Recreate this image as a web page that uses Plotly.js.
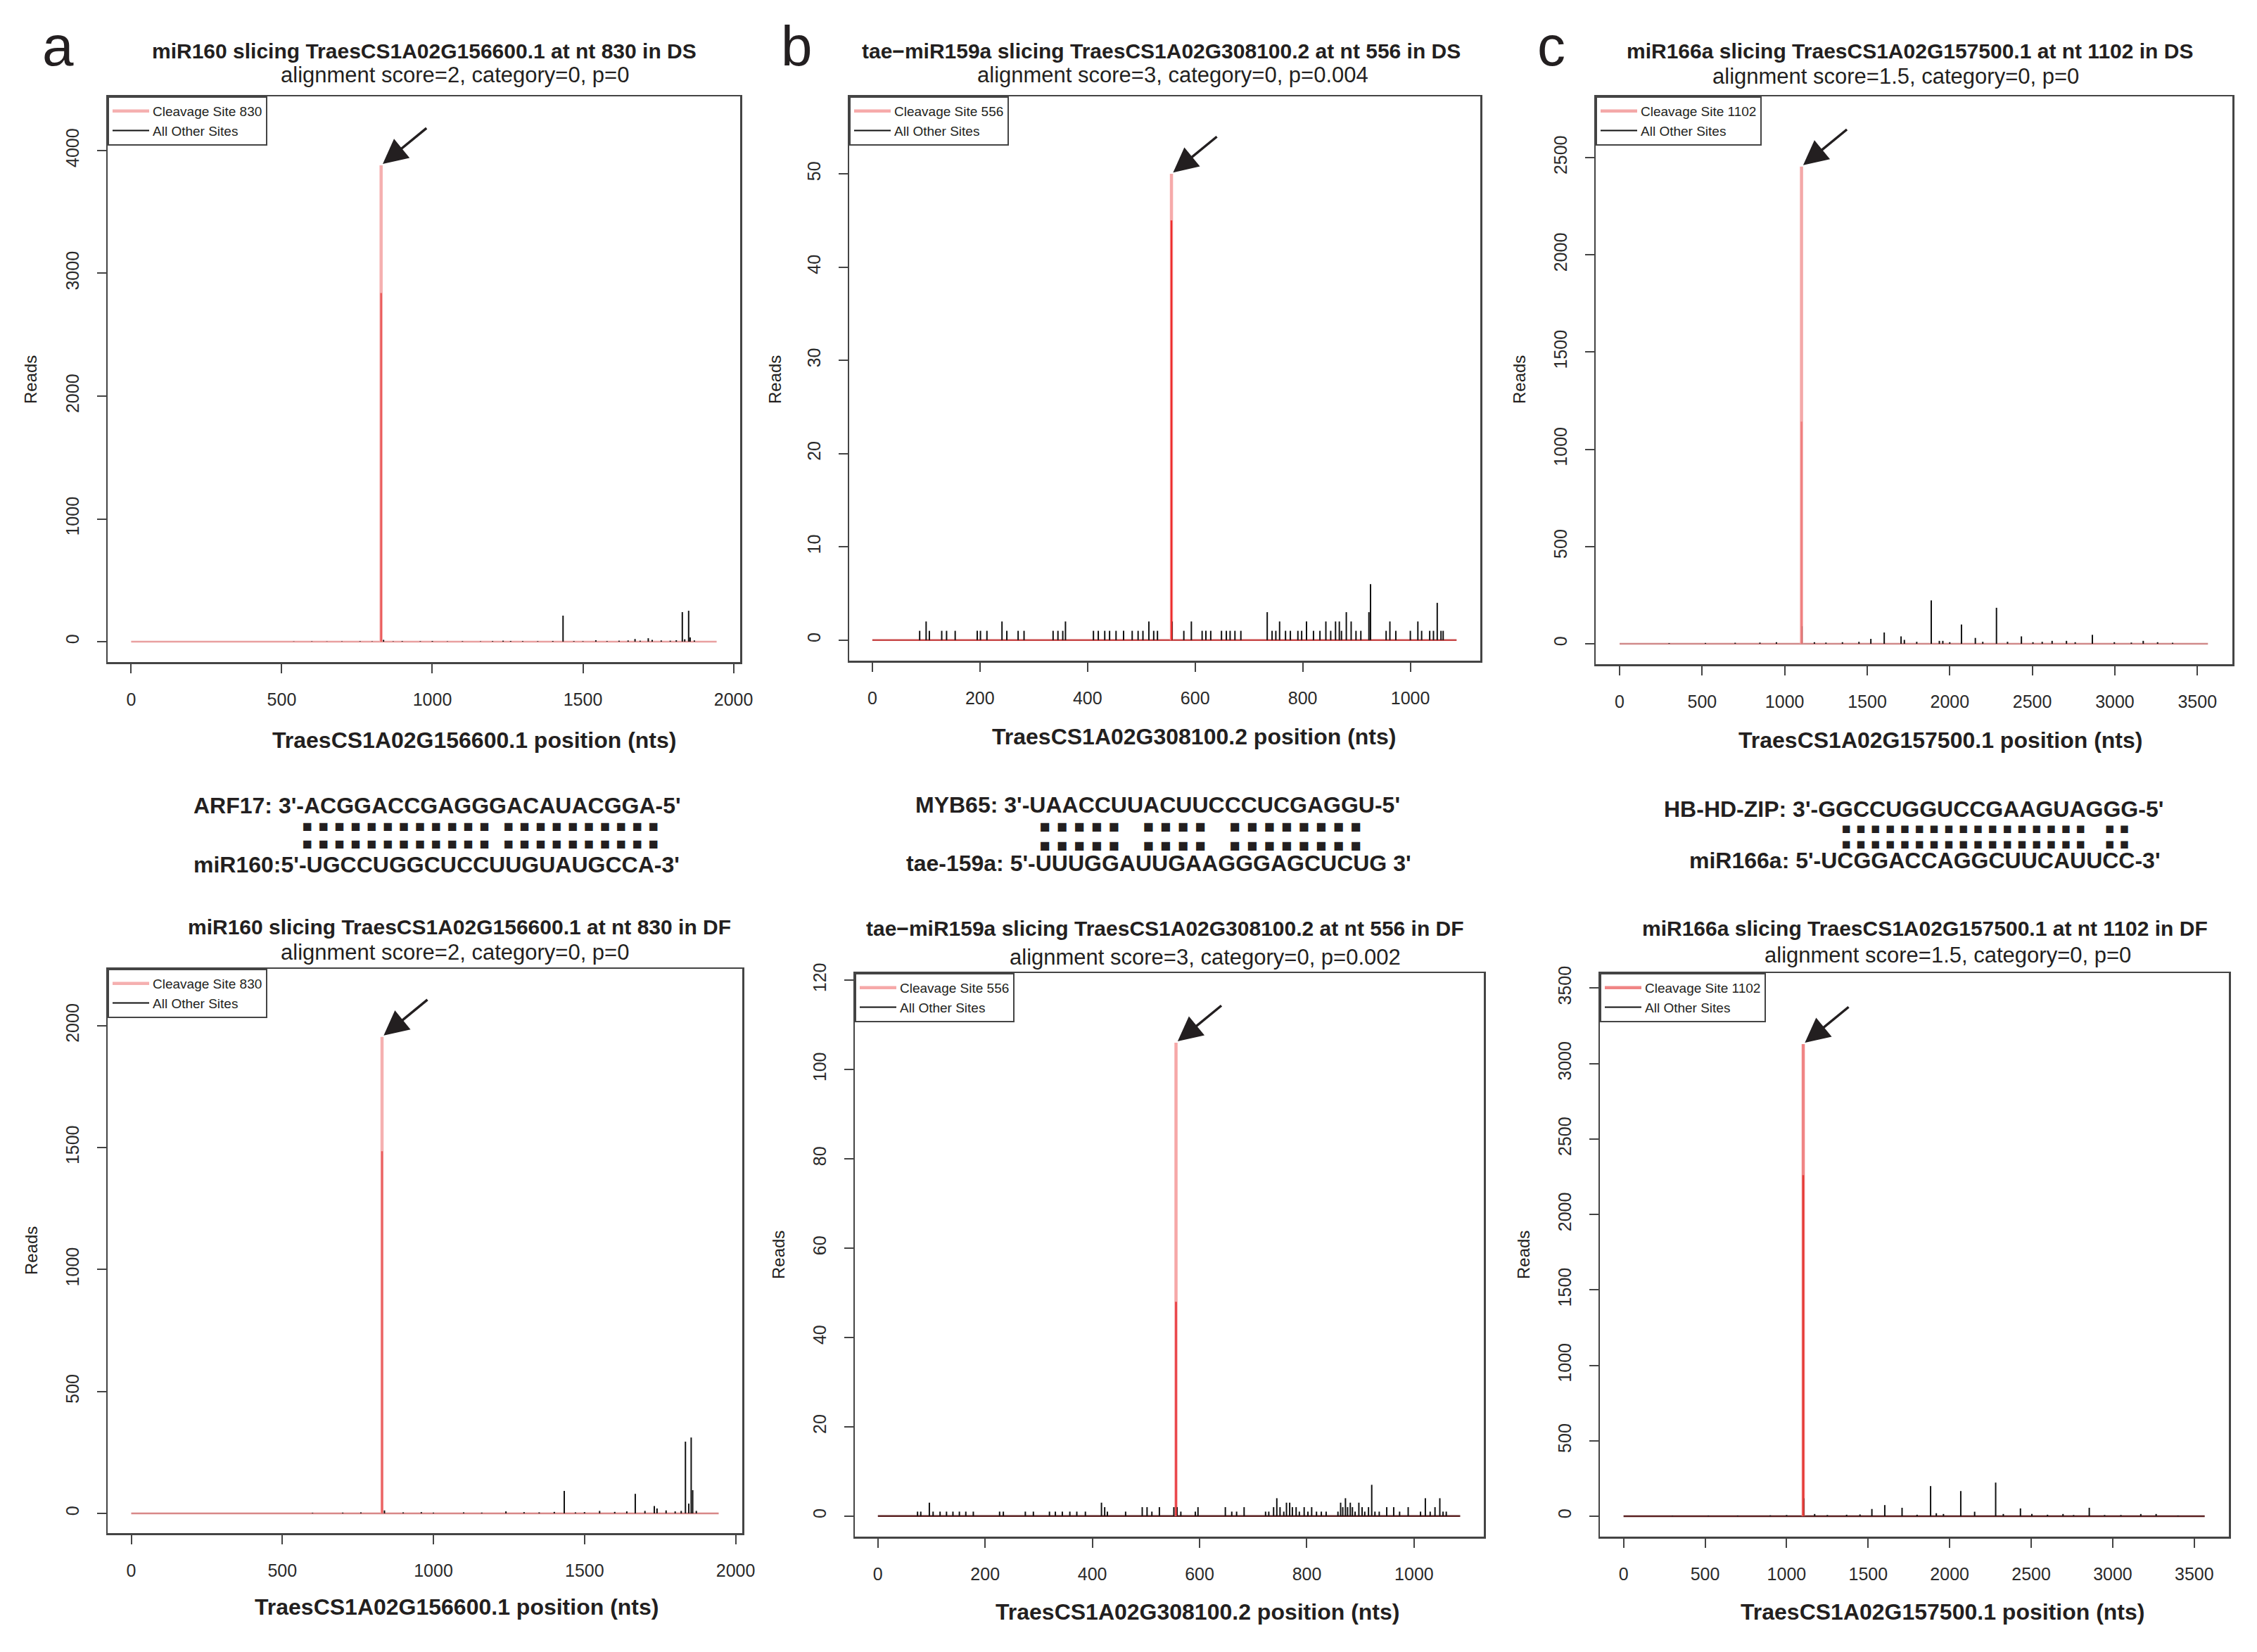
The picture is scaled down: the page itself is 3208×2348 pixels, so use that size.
<!DOCTYPE html>
<html>
<head>
<meta charset="utf-8">
<script src="https://cdn.plot.ly/plotly-3.0.1.min.js"></script>
<style>
  html, body { margin: 0; padding: 0; background: #fff; }
  #chart { width: 3208px; height: 2348px; }
</style>
</head>
<body>
<div id="chart"></div>
<script>
// ---- data ----
var miRNAs = ['miR160', 'tae\u2212miR159a', 'miR166a'];
var transcripts = ['TraesCS1A02G156600.1', 'TraesCS1A02G308100.2', 'TraesCS1A02G157500.1'];
var transcriptLengths = [1944, 1086, 3564];
var cleavageSites = [830, 556, 1102];
var alignScores = ['2', '3', '1.5'];
var categories = ['0', '0', '0'];
var pValuesDS = ['0', '0.004', '0'];
var pValuesDF = ['0', '0.002', '0'];
var panelLetters = ['a', 'b', 'c'];

// read count at the cleavage site (whole spike / darker lower part)
var peakReadsDS = [3880, 50, 2454];
var peakReadsDF = [1954, 106, 3129];
var peakDarkDS = [2840, 45, 1142];
var peakDarkDF = [1485, 48, 2260];

// all other sites: positions and reads
var otherPosA_DS = [540, 600, 650, 700, 760, 800, 838, 870, 900, 960, 1000, 1050, 1100, 1160, 1200, 1235, 1260, 1300, 1350, 1400, 1434, 1470, 1500, 1543, 1580, 1620, 1650, 1673, 1690, 1717, 1730, 1760, 1790, 1810, 1830, 1838, 1851, 1856, 1870];
var otherReadsA_DS = [2, 3, 2, 3, 4, 3, 15, 3, 5, 4, 6, 3, 4, 3, 5, 8, 6, 5, 4, 6, 212, 5, 4, 12, 5, 8, 10, 22, 8, 28, 15, 10, 8, 12, 241, 20, 252, 35, 10];

var otherPosA_DF = [600, 700, 760, 838, 900, 960, 1000, 1100, 1160, 1240, 1300, 1350, 1400, 1433, 1470, 1500, 1550, 1600, 1640, 1668, 1700, 1731, 1740, 1770, 1800, 1820, 1834, 1845, 1853, 1858, 1870];
var otherReadsA_DF = [2, 3, 4, 12, 4, 5, 3, 4, 3, 8, 5, 4, 6, 92, 4, 5, 10, 6, 8, 80, 10, 30, 20, 12, 8, 10, 294, 40, 311, 95, 10];

var otherPosB_DS = [88, 100, 106, 129, 138, 154, 195, 201, 213, 241, 250, 271, 282, 336, 345, 354, 359, 411, 420, 432, 441, 453, 467, 483, 494, 503, 514, 523, 530, 557, 579, 593, 613, 620, 629, 649, 658, 665, 674, 685, 734, 743, 750, 757, 768, 777, 791, 798, 807, 820, 832, 843, 852, 861, 868, 872, 881, 890, 899, 908, 923, 926, 955, 962, 973, 1000, 1014, 1021, 1036, 1043, 1050, 1057, 1061];
var otherReadsB_DS = [1, 2, 1, 1, 1, 1, 1, 1, 1, 2, 1, 1, 1, 1, 1, 1, 2, 1, 1, 1, 1, 1, 1, 1, 1, 1, 2, 1, 1, 2, 1, 2, 1, 1, 1, 1, 1, 1, 1, 1, 3, 1, 1, 2, 1, 1, 1, 1, 2, 1, 1, 2, 1, 2, 2, 1, 3, 2, 1, 1, 3, 6, 1, 2, 1, 1, 2, 1, 1, 1, 4, 1, 1];

var otherPosB_DF = [74, 80, 96, 103, 116, 128, 140, 152, 164, 178, 227, 234, 275, 290, 320, 331, 344, 358, 371, 387, 417, 423, 428, 462, 493, 502, 511, 525, 552, 558, 565, 592, 597, 648, 660, 669, 683, 723, 729, 738, 744, 750, 757, 762, 768, 773, 780, 786, 795, 802, 809, 818, 827, 836, 858, 863, 867, 872, 876, 881, 885, 890, 897, 903, 908, 915, 921, 927, 935, 949, 962, 973, 989, 1012, 1021, 1030, 1039, 1048, 1054, 1060];
var otherReadsB_DF = [1, 1, 3, 1, 1, 1, 1, 1, 1, 1, 1, 1, 1, 1, 1, 1, 1, 1, 1, 1, 3, 2, 1, 1, 2, 2, 1, 2, 2, 2, 1, 1, 2, 2, 1, 1, 2, 1, 1, 2, 4, 2, 1, 3, 3, 2, 2, 1, 2, 1, 2, 1, 1, 1, 1, 3, 2, 4, 2, 3, 2, 1, 3, 2, 1, 2, 7, 1, 1, 2, 2, 1, 2, 1, 4, 1, 2, 4, 1, 1];

var otherPosC_DS = [300, 520, 700, 850, 950, 1104, 1180, 1250, 1350, 1450, 1522, 1603, 1705, 1725, 1800, 1888, 1937, 1958, 2000, 2071, 2155, 2200, 2283, 2350, 2434, 2504, 2560, 2620, 2707, 2760, 2864, 2997, 3100, 3172, 3259, 3350];
var otherReadsC_DS = [3, 4, 5, 6, 8, 90, 8, 6, 8, 10, 25, 58, 38, 20, 10, 223, 15, 15, 8, 99, 30, 10, 185, 10, 38, 8, 10, 15, 15, 8, 46, 8, 6, 15, 8, 5];

var otherPosC_DF = [300, 520, 700, 900, 1000, 1104, 1172, 1250, 1368, 1450, 1523, 1602, 1708, 1800, 1883, 1918, 1962, 2068, 2153, 2282, 2329, 2434, 2504, 2600, 2695, 2760, 2856, 2950, 3050, 3172, 3266, 3400];
var otherReadsC_DF = [3, 4, 5, 6, 8, 119, 15, 8, 10, 12, 48, 74, 56, 10, 200, 20, 15, 167, 30, 223, 15, 52, 15, 10, 15, 8, 56, 8, 8, 15, 15, 5];

// target / miRNA pairing shown between the rows
var targetLines = ["ARF17: 3'-ACGGACCGAGGGACAUACGGA-5'", "MYB65: 3'-UAACCUUACUUCCCUCGAGGU-5'", "HB-HD-ZIP: 3'-GGCCUGGUCCGAAGUAGGG-5'"];
var mirLines = ["miR160:5'-UGCCUGGCUCCUUGUAUGCCA-3'", "tae-159a: 5'-UUUGGAUUGAAGGGAGCUCUG 3'", "miR166a: 5'-UCGGACCAGGCUUCAUUCC-3'"];
var pairGroups = [[12, 10], [5, 4, 8], [17, 2]];

// ---- layout helpers (pixel positions on the 3208x2348 page) ----
var W = 3208, H = 2348;
var FONT = 'Liberation Sans, Arial, Helvetica, sans-serif';
var INK = '#231f20';
function px(x) { return x / W; }
function py(y) { return 1 - y / H; }

// panel order: aDS, bDS, cDS, aDF, bDF, cDF
var boxes = [
    {x0: 153, x1: 1052, y0: 137, y1: 941},
    {x0: 1207, x1: 2104, y0: 137, y1: 939},
    {x0: 2268, x1: 3173, y0: 137, y1: 944},
    {x0: 153, x1: 1055, y0: 1377, y1: 2179},
    {x0: 1215, x1: 2109, y0: 1383, y1: 2184},
    {x0: 2274, x1: 3168, y0: 1383, y1: 2184}
];
var xRanges = [[-78, 2022], [-43, 1130], [-145, 3712]];
var yRanges = [[-166, 4441], [-2.2, 58.3], [-105, 2815], [-81, 2233], [-4.6, 121.6], [-135, 3600]];
var xDticks = [500, 200, 500];
var yDticks = [1000, 10, 500, 500, 20, 500];
var pinkColors = ['#f5b0b0', '#f6aaaa', '#f4a8a8', '#f5b0b0', '#f6a8a8', '#f08585'];
var darkColors = ['#ea5a5a', '#ee2d2d', '#f07d7d', '#ea5a5a', '#e8383d', '#e53935'];
var baseColors = ['#e9a0a0', '#c84848', '#d08a8a', '#d88888', '#5a2020', '#5a2020'];

var otherPos = [otherPosA_DS, otherPosB_DS, otherPosC_DS, otherPosA_DF, otherPosB_DF, otherPosC_DF];
var otherReads = [otherReadsA_DS, otherReadsB_DS, otherReadsC_DS, otherReadsA_DF, otherReadsB_DF, otherReadsC_DF];

function spikes(pos, reads) {
    var x = [], y = [];
    for (var i = 0; i < pos.length; i++) {
        x.push(pos[i], pos[i], null);
        y.push(0, reads[i], null);
    }
    return {x: x, y: y};
}

var traces = [];
var layout = {
    width: W,
    height: H,
    margin: {l: 0, r: 0, t: 0, b: 0},
    paper_bgcolor: 'white',
    plot_bgcolor: 'white',
    hovermode: false,
    font: {family: FONT, color: INK},
    annotations: []
};

for (var k = 0; k < 6; k++) {
    var g = k % 3;
    var isDS = k < 3;
    var n = k + 1;
    var xa = n === 1 ? 'x' : 'x' + n;
    var ya = n === 1 ? 'y' : 'y' + n;
    var leg = n === 1 ? 'legend' : 'legend' + n;
    var site = cleavageSites[g];
    var peak = isDS ? peakReadsDS[g] : peakReadsDF[g];
    var dark = isDS ? peakDarkDS[g] : peakDarkDF[g];

    // baseline along the transcript
    traces.push({
        x: [0, transcriptLengths[g]], y: [0, 0],
        xaxis: xa, yaxis: ya, type: 'scatter', mode: 'lines',
        line: {color: baseColors[k], width: 2.5}, showlegend: false
    });
    // cleavage site spike
    traces.push({
        x: [site, site], y: [0, peak],
        xaxis: xa, yaxis: ya, type: 'scatter', mode: 'lines',
        line: {color: pinkColors[k], width: 4.5},
        name: 'Cleavage Site ' + site, legend: leg, showlegend: true
    });
    var s = spikes(otherPos[k], otherReads[k]);
    traces.push({
        x: s.x, y: s.y,
        xaxis: xa, yaxis: ya, type: 'scatter', mode: 'lines', connectgaps: false,
        line: {color: '#111111', width: 2},
        name: 'All Other Sites', legend: leg, showlegend: true
    });
    traces.push({
        x: [site, site], y: [0, dark],
        xaxis: xa, yaxis: ya, type: 'scatter', mode: 'lines',
        line: {color: darkColors[k], width: 2.5}, showlegend: false
    });

    var b = boxes[k];
    var axisCommon = {
        showgrid: false, zeroline: false,
        showline: true, mirror: true, linecolor: '#444', linewidth: 2.5,
        ticks: 'outside', ticklen: 13, tickwidth: 2, tickcolor: '#444',
        tickfont: {family: FONT, size: 25, color: '#2a2a2a'},
        ticklabelstandoff: 16, tick0: 0, fixedrange: true
    };
    layout[n === 1 ? 'xaxis' : 'xaxis' + n] = Object.assign({}, axisCommon, {
        domain: [px(b.x0), px(b.x1)], anchor: ya,
        range: xRanges[g], dtick: xDticks[g]
    });
    layout[n === 1 ? 'yaxis' : 'yaxis' + n] = Object.assign({}, axisCommon, {
        domain: [py(b.y1), py(b.y0)], anchor: xa,
        range: yRanges[k], dtick: yDticks[k], tickangle: -90
    });
    layout[leg] = {
        x: px(b.x0), y: py(b.y0), xanchor: 'left', yanchor: 'top',
        bgcolor: 'white', bordercolor: '#444', borderwidth: 2,
        font: {family: FONT, size: 19, color: INK},
        itemwidth: 52, tracegroupgap: 0
    };

    // arrow to the cleavage peak
    layout.annotations.push({
        x: site, y: peak, xref: xa, yref: ya, text: '',
        showarrow: true, arrowhead: 2, arrowsize: 2, arrowwidth: 3.5,
        arrowcolor: INK, ax: 66, ay: -54, standoff: 3
    });
}

function note(text, x, y, size, extra) {
    layout.annotations.push(Object.assign({
        text: text, x: px(x), y: py(y), xref: 'paper', yref: 'paper',
        xanchor: 'center', yanchor: 'middle', showarrow: false,
        font: {family: FONT, size: size, color: INK}
    }, extra || {}));
}

// titles: [line1 x, line1 y, line2 x, line2 y]
var titlePos = [
    [603, 73, 646, 107], [1650, 73, 1667, 107], [2714, 73, 2694, 108],
    [653, 1317, 646, 1353], [1656, 1319, 1713, 1360], [2736, 1319, 2768, 1357]
];
var readsPos = [[43, 540], [1101, 540], [2159, 540], [44, 1778], [1106, 1784], [2165, 1784]];
var xTitlePos = [[674, 1052], [1697, 1047], [2758, 1052], [649, 2284], [1702, 2291], [2761, 2291]];

for (var k = 0; k < 6; k++) {
    var g = k % 3;
    var isDS = k < 3;
    var t = titlePos[k];
    note('<b>' + miRNAs[g] + ' slicing ' + transcripts[g] + ' at nt ' + cleavageSites[g] + ' in ' + (isDS ? 'DS' : 'DF') + '</b>', t[0], t[1], 30);
    note('alignment score=' + alignScores[g] + ', category=' + categories[g] + ', p=' + (isDS ? pValuesDS[g] : pValuesDF[g]), t[2], t[3], 31);
    note('Reads', readsPos[k][0], readsPos[k][1], 24, {textangle: -90});
    note('<b>' + transcripts[g] + ' position (nts)</b>', xTitlePos[k][0], xTitlePos[k][1], 32);
}

// panel letters
var letterX = [82, 1132, 2205];
for (var g = 0; g < 3; g++) {
    note(panelLetters[g], letterX[g], 66, 80);
}

// pairing blocks between the two rows
var seqPos = [
    {t: [621, 1145], m: [620, 1229], d: [683, 1185], dot: 19, gap: '  '},
    {t: [1645, 1144], m: [1647, 1227], d: [1706, 1188], dot: 20.4, gap: '   '},
    {t: [2720, 1150], m: [2736, 1223], d: [2822, 1188], dot: 17.3, gap: '   '}
];
for (var g = 0; g < 3; g++) {
    var sp = seqPos[g];
    note('<b>' + targetLines[g] + '</b>', sp.t[0], sp.t[1], 32);
    note('<b>' + mirLines[g] + '</b>', sp.m[0], sp.m[1], 32);
    var row = pairGroups[g].map(function (cnt) {
        return new Array(cnt).fill('\u25A0').join(' ');
    }).join(sp.gap);
    note(row + '<br>' + row, sp.d[0], sp.d[1], sp.dot, {
        font: {family: 'DejaVu Sans Mono, Liberation Mono, monospace', size: sp.dot, color: INK}
    });
}

Plotly.newPlot('chart', traces, layout, {staticPlot: true, displayModeBar: false});
</script>
</body>
</html>
